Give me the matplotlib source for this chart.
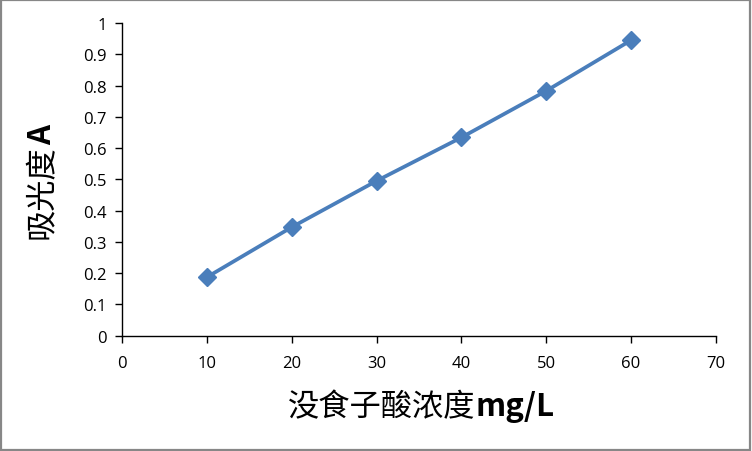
import matplotlib
matplotlib.use("Agg")
import matplotlib.pyplot as plt
from matplotlib.ticker import FuncFormatter, MultipleLocator
from matplotlib.patches import Rectangle

plt.rcParams['font.family'] = ['Noto Sans CJK SC', 'DejaVu Sans']

concentration = [10, 20, 30, 40, 50, 60]
absorbance = [0.187, 0.347, 0.495, 0.634, 0.783, 0.945]
xlabel_cjk, xlabel_unit = "没食子酸浓度", "mg/L"
ylabel_cjk, ylabel_unit = "吸光度", "A"

fig = plt.figure(figsize=(7.52, 4.52), dpi=100)
ax = fig.add_axes([0.1622, 0.2551, 0.7899, 0.6918])

ax.plot(concentration, absorbance, color='#4A7EBB', lw=2.7, marker='D',
        markersize=9, markerfacecolor='#4A7EBB', markeredgecolor='#4A7EBB',
        solid_capstyle='round')

ax.set_xlim(0, 70)
ax.set_ylim(0, 1)
ax.xaxis.set_major_locator(MultipleLocator(10))
ax.yaxis.set_major_locator(MultipleLocator(0.1))
ax.yaxis.set_major_formatter(FuncFormatter(lambda v, p: f"{v:g}"))
ax.xaxis.set_major_formatter(FuncFormatter(lambda v, p: f"{v:g}"))

for s in ['top', 'right']:
    ax.spines[s].set_visible(False)
for s in ['left', 'bottom']:
    ax.spines[s].set_color('black')
    ax.spines[s].set_linewidth(1.0)

ax.tick_params(direction='out', length=5, width=1, color='black',
               labelsize=12, labelcolor='black')
for lab in ax.get_xticklabels() + ax.get_yticklabels():
    lab.set_family(['Open Sans', 'DejaVu Sans'])
ax.tick_params(axis='y', pad=6)
ax.tick_params(axis='x', pad=9)

fam = ['Noto Sans CJK SC', 'DejaVu Sans']
fs = 22.5
renderer = fig.canvas.get_renderer()

# x label
tx1 = fig.text(0, 0, xlabel_cjk, ha='left', va='bottom', fontsize=fs, family=fam)
tx2 = fig.text(0, 0, xlabel_unit, ha='left', va='bottom', fontsize=fs, family=fam,
               weight='bold')
w1 = tx1.get_window_extent(renderer).width
w2 = tx2.get_window_extent(renderer).width
h1 = tx1.get_window_extent(renderer).height
W = 752.0
cx, cy = 421.0, 452 - 407.0
x0 = cx - (w1 + w2) / 2
tx1.set_position((x0 / W, (cy - h1 / 2) / 452))
tx2.set_position(((x0 + w1) / W, (cy - h1 / 2) / 452))

# y label (rotated)
ty1 = fig.text(0, 0, ylabel_cjk, ha='left', va='bottom', rotation=90,
               fontsize=fs, family=fam, rotation_mode='anchor')
ty2 = fig.text(0, 0, ylabel_unit, ha='left', va='bottom', rotation=90,
               fontsize=fs, family=fam, weight='bold', rotation_mode='anchor')
l1 = ty1.get_window_extent(renderer).height
l2 = ty2.get_window_extent(renderer).height
cxy, cyy = 42.0 + h1 / 2, 452 - 182.0
y0 = cyy - (l1 + l2) / 2
ty1.set_position((cxy / W, y0 / 452))
ty2.set_position((cxy / W, (y0 + l1) / 452))

fig.patches.append(Rectangle((0.001, 0.002), 0.997, 0.996, transform=fig.transFigure,
                             fill=False, edgecolor='#878787', linewidth=1.6))

fig.savefig('out.png', dpi=100)
